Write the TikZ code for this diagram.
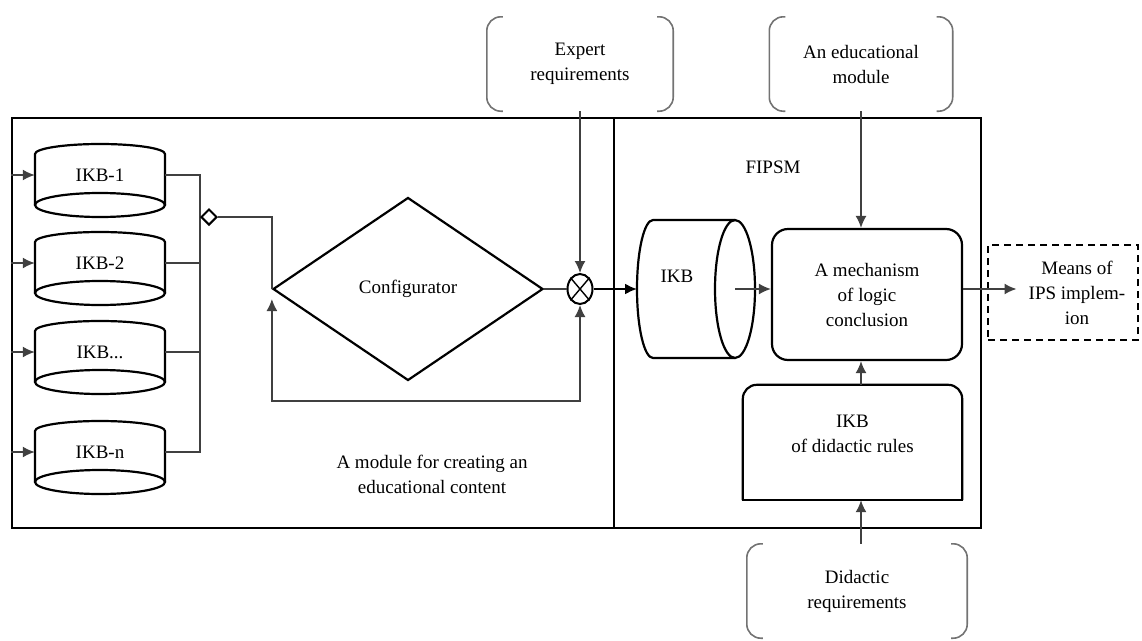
\documentclass[tikz,border=0pt]{standalone}
\usepackage{fontspec}
\setmainfont{Liberation Serif}
\usetikzlibrary{calc,shapes.geometric,arrows.meta}

\begin{document}
\begin{tikzpicture}[x=1pt,y=-1pt,
  font=\fontsize{19}{25}\selectfont,
  >={Latex[length=12pt,width=11pt]},
  frame/.style={draw, line width=2.8pt, minimum height=410, inner sep=0},
  shape line/.style={line width=2.2pt},
  conn/.style={line width=1.6pt, draw=black!75},
  bracket/.style={line width=1.6pt, draw=black!55, rounded corners=14},
  req/.style={align=center, minimum width=#1, minimum height=94, inner sep=0}]
\useasboundingbox (0,0) rectangle (1142,640);
\def\kbdots{IKB...}
\node[frame, minimum width=602] (modbox) at (313,323) {};
\node[frame, minimum width=367] (fipbox) at (797.5,323) {};
\foreach \n/\t/\ye in {kb1/IKB-1/205, kb2/IKB-2/293, kb3/\kbdots/382, kbn/IKB-n/482}{
\draw[shape line] (35,\ye) -- (35,\ye-51) arc[start angle=180, end angle=360, x radius=65, y radius=10] -- (165,\ye);
\draw[shape line] (100,\ye) ellipse [x radius=65, y radius=12];
\node[minimum width=130, inner sep=0] (\n) at (100,\ye-30) {\t};
\draw[conn, ->] (\n.west -| modbox.west) -- (\n.west);
}
\coordinate (bus) at (200,0);
\draw[conn] (kb1.east) -- (kb1.east -| bus) -- (kbn.east -| bus) -- (kbn.east);
\foreach \n in {kb2,kb3} \draw[conn] (\n.east) -- (\n.east -| bus);
\node[draw, diamond, aspect=1, line width=2pt, minimum size=16, inner sep=0] (jn) at (209,217) {};
\node[draw, diamond, shape line, minimum width=270, minimum height=183, inner sep=0] (cfg) at (408,289) {Configurator};
\draw[conn] (jn.east) -| (cfg.west);
\node[draw, ellipse, line width=2pt, minimum width=25, minimum height=30, inner sep=0] (mix) at (580,289) {};
\draw[line width=1.4pt] (mix.north west) -- (mix.south east) (mix.north east) -- (mix.south west);
\draw[conn] (cfg.east) -- (mix.west);
\draw[conn, <->] ($(cfg.west)+(0,10)$) |- ($(mix.south)+(0,96)$) -| (mix.south);
\node[req=186] (exp) at (580,64) {Expert\\requirements};
\draw[conn, ->] (exp.south) -- (mix.north);
\node[align=center] (modlbl) at (432,474) {A module for creating an\\educational content};
\coordinate (ikbw) at (637,289);
\coordinate (ikbc) at (735,289);
\draw[shape line] (735,220) -- (653,220) arc[start angle=270, end angle=90, x radius=16, y radius=69] -- (735,358);
\draw[shape line] (ikbc) ellipse [x radius=20, y radius=69];
\node (ikb) at (677,276) {IKB};
\draw[line width=2pt, ->] (mix.east) -- (ikbw);
\node (fipsm) at (773,167) {FIPSM};
\node[draw, shape line, rounded corners=16, minimum width=190, minimum height=131, align=center] (mech) at (867,294.5) {A mechanism\\of logic\\conclusion};
\draw[conn, ->] (ikbc) -- (ikbc -| mech.west);
\node[req=183] (edu) at (861,64) {An educational\\module};
\draw[conn, ->] (edu.south) -- (edu.south |- mech.north);
\node[minimum width=219, minimum height=115, label={[align=center, yshift=9]center:IKB\\of didactic rules}] (rules) at (852.5,442.5) {};
\draw[shape line, rounded corners=14] (rules.south west) -- (rules.north west) -- (rules.north east) -- (rules.south east);
\draw[shape line, line cap=rect] (rules.south west) -- (rules.south east);
\draw[conn, ->] (rules.north -| edu.south) -- (mech.south -| edu.south);
\node[req=220] (did) at (857,591) {Didactic\\requirements};
\draw[conn, ->] (did.north -| edu.south) -- (rules.south -| edu.south);
\foreach \b in {exp,edu,did}{
\draw[bracket] ($(\b.north west)+(16,0)$) -- (\b.north west) -- (\b.south west) -- ++(16,0);
\draw[bracket] ($(\b.north east)+(-16,0)$) -- (\b.north east) -- (\b.south east) -- ++(-16,0);
}
\node[draw, line width=2pt, dash pattern=on 7pt off 5pt, minimum width=150, minimum height=95] (outbox) at (1063,292.5) {};
\node[align=center, inner sep=12] (means) at (1077,293) {Means of\\IPS implem-\\ion};
\draw[conn, ->] (mech.east |- ikbc) -- (means.west |- ikbc);
\end{tikzpicture}
\end{document}
